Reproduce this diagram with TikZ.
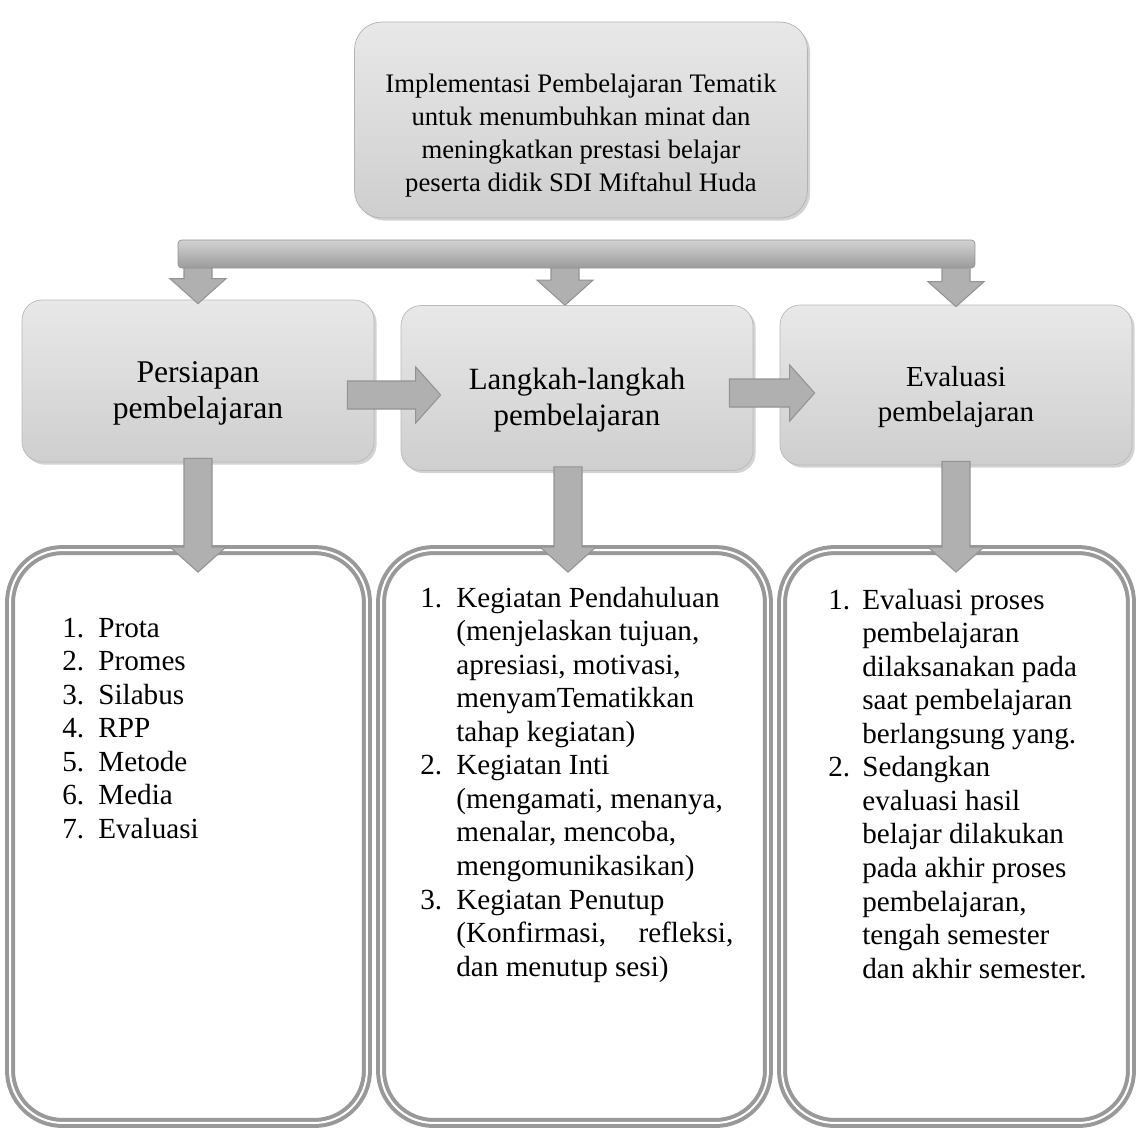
\documentclass[tikz,border=0pt]{standalone}
\usepackage{fontspec}
\setmainfont{Liberation Serif}
\usetikzlibrary{positioning,calc,shadows}

\newcommand{\shaftw}{0.28cm}
\newcommand{\headw}{0.56cm}
\newcommand{\headl}{0.5cm}
\newcommand{\lowstrut}[1]{\rule{0pt}{#1}}
\newcommand{\blockarrow}[2]{%
  \path ($(#2)!\headl!(#1)$) coordinate (hb);
  \filldraw[fatarrow] ($(#1)!\shaftw!90:(#2)$) -- ($(hb)!\shaftw!90:(#2)$)
    -- ($(hb)!\headw!90:(#2)$) -- (#2) -- ($(hb)!\headw!-90:(#2)$)
    -- ($(hb)!\shaftw!-90:(#2)$) -- ($(#1)!\shaftw!-90:(#2)$) -- cycle;}

\begin{document}
\begin{tikzpicture}[x=0.02cm,y=-0.02cm,
    topbox/.style={draw=gray!60,rounded corners=0.55cm,top color=gray!18,bottom color=gray!38,
      drop shadow={shadow xshift=1.5pt,shadow yshift=-1.5pt,opacity=.35},
      minimum width=9.06cm,minimum height=3.92cm,align=center,
      font=\fontsize{15.2}{18.8}\selectfont},
    midbox/.style={draw=gray!55,rounded corners=0.4cm,top color=gray!18,bottom color=gray!38,
      drop shadow={shadow xshift=1.5pt,shadow yshift=-1.5pt,opacity=.35},
      minimum width=7.04cm,minimum height=3.24cm,align=center},
    listbox/.style={draw=gray!80,double=white,double distance=0.04cm,line width=0.08cm,
      rounded corners=1.05cm,minimum height=11.46cm},
    listtext/.style={anchor=base west,inner sep=0pt,font=\fontsize{16.6}{19.1}\selectfont},
    fatarrow/.style={fill=gray!62,draw=gray!85,line width=0.6pt},
    bar/.style={draw=gray!85,top color=gray!35,bottom color=gray!78,rounded corners=2pt,
      minimum width=15.94cm,minimum height=0.56cm,inner sep=0pt}]
  \useasboundingbox (0,0) rectangle (1139,1130);

  \node[topbox] (topic) at (581,120) {\lowstrut{28pt}Implementasi Pembelajaran Tematik\\
    untuk menumbuhkan minat dan\\ meningkatkan prestasi belajar\\
    peserta didik SDI Miftahul Huda};

  \node[midbox,font=\fontsize{18}{20}\selectfont] (prep) at (198,381) {\lowstrut{26pt}Persiapan\\pembelajaran};
  \node[midbox,font=\fontsize{17.6}{20}\selectfont,minimum height=3.3cm] (steps) at (577,388) {\lowstrut{26pt}Langkah-langkah\\pembelajaran};
  \node[midbox,font=\fontsize{16.5}{19.5}\selectfont,minimum height=3.2cm] (eval) at (956,385) {\lowstrut{25pt}Evaluasi\\pembelajaran};

  \node[listbox,minimum width=7.14cm] (prepbox) at (188.5,836.5) {};
  \node[listbox,minimum width=7.74cm] (stepbox) at (574.5,836.5) {};
  \node[listbox,minimum width=6.98cm] (evalbox) at (956.5,836.5) {};

  \node[listtext] (preplist) at (62,637) {\begin{tabular}[t]{@{}p{0.72cm}@{}l@{}}
    1. & Prota\\ 2. & Promes\\ 3. & Silabus\\ 4. & RPP\\
    5. & Metode\\ 6. & Media\\ 7. & Evaluasi
  \end{tabular}};
  \node[listtext] (steplist) at (420,607) {\begin{tabular}[t]{@{}p{0.72cm}@{}l@{}}
    1. & Kegiatan Pendahuluan\\ & (menjelaskan tujuan,\\ & apresiasi, motivasi,\\
       & menyamTematikkan\\ & tahap kegiatan)\\
    2. & Kegiatan Inti\\ & (mengamati, menanya,\\ & menalar, mencoba,\\
       & mengomunikasikan)\\
    3. & Kegiatan Penutup\\ & \makebox[5.54cm][s]{(Konfirmasi, refleksi,}\\
       & dan menutup sesi)
  \end{tabular}};
  \node[listtext] (evallist) at (828,609) {\begin{tabular}[t]{@{}p{0.68cm}@{}l@{}}
    1. & Evaluasi proses\\ & pembelajaran\\ & dilaksanakan pada\\
       & saat pembelajaran\\ & berlangsung yang.\\
    2. & Sedangkan\\ & evaluasi hasil\\ & belajar dilakukan\\
       & pada akhir proses\\ & pembelajaran,\\ & tengah semester\\
       & dan akhir semester.
  \end{tabular}};

  % arrows between the boxes
  \coordinate (r1s) at ($(prep.east)+(-27,14)$);
  \coordinate (r1t) at ($(steps.west |- r1s)+(40,0)$);
  \coordinate (r2s) at ($(steps.east)+(-24,5)$);
  \coordinate (r2t) at ($(eval.west |- r2s)+(35,0)$);
  \blockarrow{r1s}{r1t}
  \blockarrow{r2s}{r2t}

  \coordinate (d1s) at ($(prep.south)+(0,-4)$);
  \coordinate (d1t) at ($(prepbox.north -| prep.south)+(0,24)$);
  \coordinate (d2s) at ($(steps.south)+(-9,-4)$);
  \coordinate (d2t) at ($(stepbox.north -| d2s)+(0,24)$);
  \coordinate (d3s) at ($(eval.south)+(0,-4)$);
  \coordinate (d3t) at ($(evalbox.north -| eval.south)+(0,24)$);
  \blockarrow{d1s}{d1t}
  \blockarrow{d2s}{d2t}
  \blockarrow{d3s}{d3t}

  % bar from the topic to the three steps
  \coordinate (t1s) at (prep.north |- 0,254);
  \coordinate (t1t) at ($(prep.north)+(0,4)$);
  \coordinate (t2s) at ($(steps.north |- 0,254)+(-12,0)$);
  \coordinate (t2t) at ($(steps.north)+(-12,0)$);
  \coordinate (t3s) at (eval.north |- 0,254);
  \coordinate (t3t) at ($(eval.north)+(0,2)$);
  \blockarrow{t1s}{t1t}
  \blockarrow{t2s}{t2t}
  \blockarrow{t3s}{t3t}
  \node[bar] (bar) at (576.5,254) {};
\end{tikzpicture}
\end{document}
